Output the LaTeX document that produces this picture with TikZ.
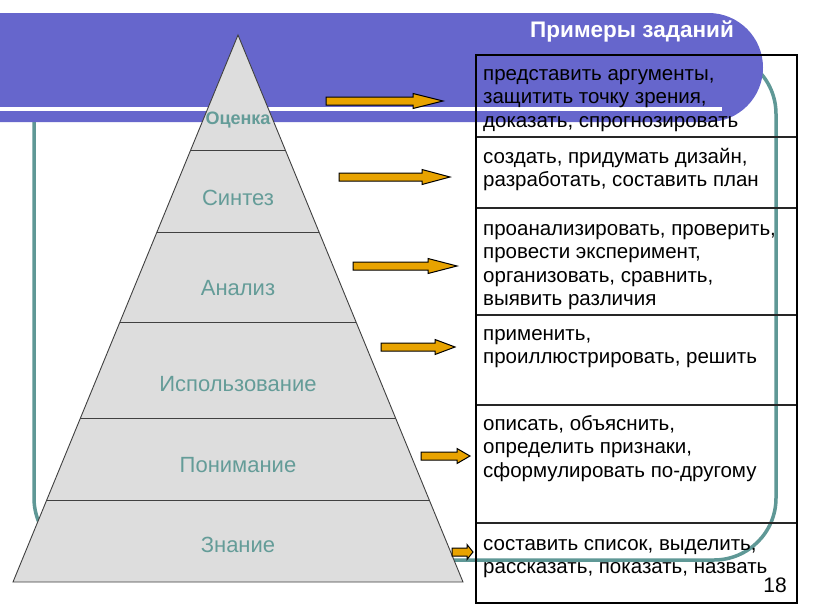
\documentclass[tikz,border=0pt]{standalone}
\usepackage{fontspec}
\setmainfont{Liberation Sans}
\usetikzlibrary{calc}
\definecolor{bannerblue}{RGB}{102,102,204}
\definecolor{tealline}{RGB}{95,152,150}
\definecolor{lbltext}{RGB}{100,156,152}
\definecolor{pyrfill}{RGB}{221,221,221}
\definecolor{pyredge}{RGB}{64,64,64}
\definecolor{arrowfill}{RGB}{232,163,0}
\tikzset{
  lvl/.style={text=lbltext, font=\fontsize{22}{26}\selectfont, anchor=base, inner sep=0},
  rowtext/.style={anchor=north west, inner sep=0, align=left, font=\fontsize{20.5}{23.5}\selectfont},
  barrow/.style={fill=arrowfill, draw=black, line width=1pt, line join=miter},
  sepline/.style={draw=black!85, line width=1.3pt}
}
\newcommand{\blockarr}[4]{%
  \draw[barrow] (#1,{#4-4}) -- (#2,{#4-4}) -- (#2,{#4-7.5}) -- (#3,#4) -- (#2,{#4+7.5}) -- (#2,{#4+4}) -- (#1,{#4+4}) -- cycle;}
\newcommand{\toprule}{\rule{0pt}{17pt}}
\begin{document}
\begin{tikzpicture}[x=1pt,y=-1pt]
\useasboundingbox (0,0) rectangle (816,613);
\fill[white] (0,0) rectangle (816,613);
% teal rounded frame
\draw[tealline, line width=3.5pt, rounded corners=62pt] (34,52) rectangle (776,560);
% banner
\fill[bannerblue, rounded corners=54.5pt] (-100,13) rectangle (763,122);
\draw[white, line width=3.4pt] (-1,109) -- (722,109);
\node[anchor=base east, text=white, inner sep=0, font=\bfseries\fontsize{22.5}{26}\selectfont] (title) at (734,37) {Примеры заданий};
% pyramid
\coordinate (apex) at (238,35);
\coordinate (bl) at (13,582);
\coordinate (br) at (463,582);
\fill[pyrfill] (apex) -- (bl) -- (br) -- cycle;
\foreach \yy in {150,232,322,418,500} {
  \pgfmathsetmacro{\tt}{(\yy-35)/547}
  \draw[pyredge, line width=0.9pt] ($(apex)!\tt!(bl)$) -- ($(apex)!\tt!(br)$);
}
\draw[pyredge, line width=0.9pt, line join=miter] (apex) -- (bl) -- (br) -- cycle;
\node[lvl, font=\bfseries\fontsize{18}{22}\selectfont] (l1) at (238,124) {Оценка};
\node[lvl] (l2) at (238,205) {Синтез};
\node[lvl] (l3) at (238,295) {Анализ};
\node[lvl] (l4) at (238,391) {Использование};
\node[lvl] (l5) at (238,472) {Понимание};
\node[lvl] (l6) at (238,552) {Знание};
% table
\foreach \yy in {137,208,315,405,523} {\draw[sepline] (476,\yy) -- (797,\yy);}
\draw[black, line width=2.5pt] (476,55) rectangle (797,603);
\node[rowtext] (r1) at (483,63) {\toprule представить аргументы,\\защитить точку зрения,\\доказать, спрогнозировать};
\node[rowtext] (r2) at (483,146) {\toprule создать, придумать дизайн,\\разработать, составить план};
\node[rowtext] (r3) at (483,218) {\toprule проанализировать, проверить,\\провести эксперимент,\\организовать, сравнить,\\выявить различия};
\node[rowtext] (r4) at (483,323) {\toprule применить,\\проиллюстрировать, решить};
\node[rowtext] (r5) at (483,413) {\toprule описать, объяснить,\\определить признаки,\\сформулировать по-другому};
\node[rowtext] (r6) at (483,533) {\toprule составить список, выделить,\\рассказать, показать, назвать};
\node[anchor=base east, inner sep=0, font=\fontsize{21}{25}\selectfont] (pnum) at (787,592) {18};
% arrows
\blockarr{326}{413}{443}{101}
\blockarr{339}{422}{450}{177}
\blockarr{353}{428}{457}{266}
\blockarr{381}{435}{455}{347}
\blockarr{421}{457}{470}{456}
\blockarr{452}{467}{473}{552}
\end{tikzpicture}
\end{document}
